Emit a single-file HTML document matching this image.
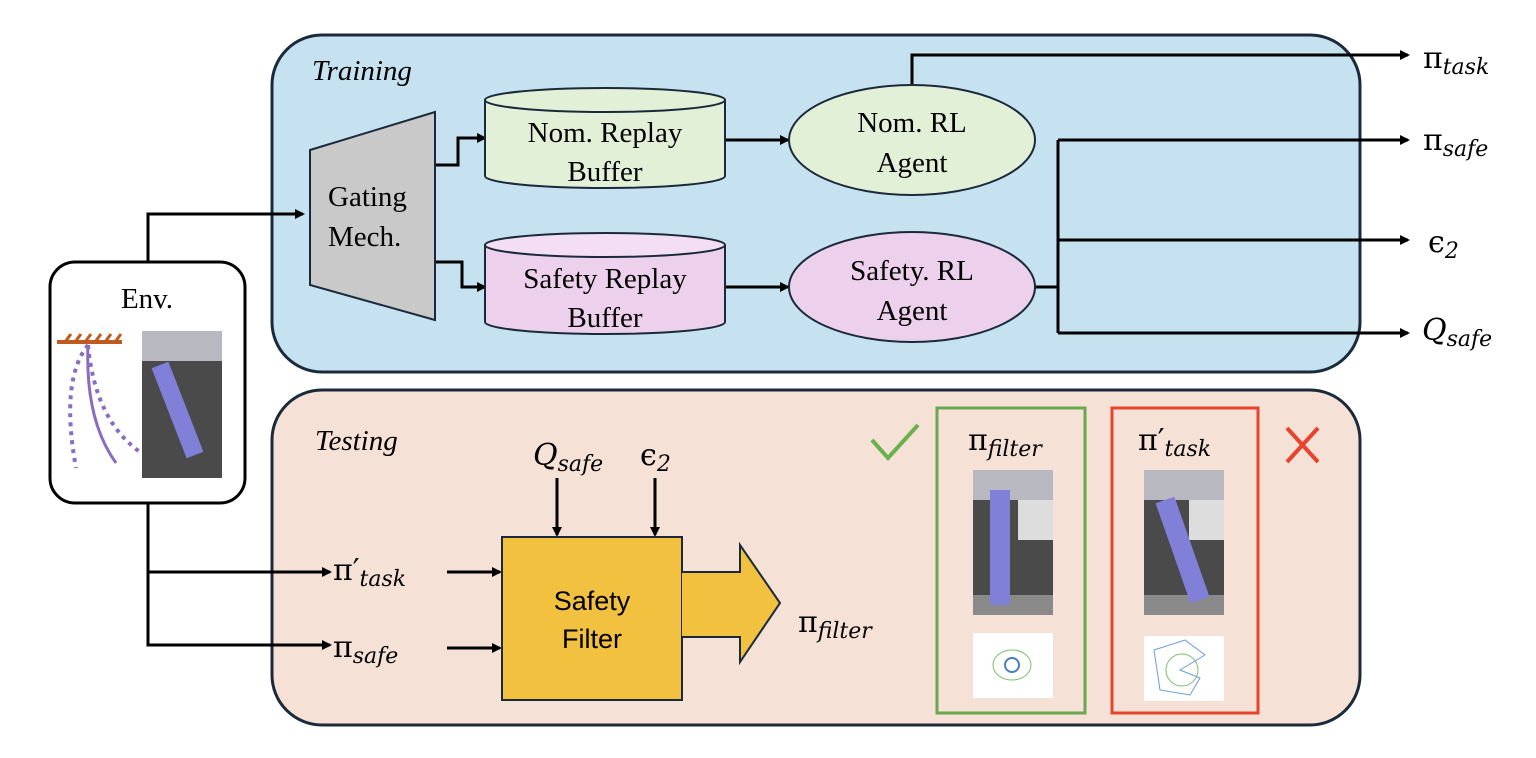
<!DOCTYPE html>
<html><head><style>body{margin:0;background:#fff}svg{display:block}
.t{font-family:"Liberation Serif",serif;font-size:29px;fill:#000}
.m{font-family:"DejaVu Serif","Liberation Serif",serif;font-size:30px;fill:#000}
.m tspan{font-style:italic}
.s{font-family:"Liberation Sans",sans-serif;font-size:27px;fill:#000}
</style></head><body>
<svg width="1536" height="758" viewBox="0 0 1536 758">
<defs><marker id="a" markerWidth="10" markerHeight="10" refX="8" refY="5" orient="auto" markerUnits="userSpaceOnUse"><path d="M0,0L10,5L0,10z" fill="#000"/></marker>
<g id="robot"><rect width="80" height="145" fill="#4a4a4a"/><rect x="0" y="0" width="80" height="30" fill="#b8b8c0"/><rect x="45" y="30" width="35" height="40" fill="#ddd"/><rect x="0" y="125" width="80" height="20" fill="#8a8a8a"/></g></defs>
<rect x="272" y="35" width="1088" height="337" rx="50" fill="#c6e2f1" stroke="#1a2a3a" stroke-width="3"/>
<rect x="272" y="390" width="1088" height="335" rx="50" fill="#f6e1d6" stroke="#1a2a3a" stroke-width="3"/>
<text x="312" y="80" class="t" font-style="italic" font-size="31">Training</text>
<text x="315" y="450" class="t" font-style="italic" font-size="31">Testing</text>
<rect x="50" y="262" width="195" height="241" rx="25" fill="#fff" stroke="#000" stroke-width="3"/>
<text x="147" y="308" class="t" font-size="32" text-anchor="middle">Env.</text>
<line x1="57" y1="342" x2="122" y2="342" stroke="#c05a20" stroke-width="4"/>
<path d="M65,342l6,-8M75,342l6,-8M85,342l6,-8M95,342l6,-8M105,342l6,-8M115,342l6,-8" stroke="#c05a20" stroke-width="3"/>
<path d="M88,345Q60,380 76,468" stroke="#8a6cc0" stroke-width="4" fill="none" stroke-dasharray="4,5"/>
<path d="M88,345Q85,420 116,463" stroke="#8a6cc0" stroke-width="3" fill="none"/>
<path d="M88,345Q95,420 140,452" stroke="#8a6cc0" stroke-width="4" fill="none" stroke-dasharray="4,5"/>
<rect x="142" y="331" width="80" height="147" fill="#4a4a4a"/><rect x="142" y="331" width="80" height="30" fill="#b8b8c0"/>
<path d="M160,365L195,455" stroke="#8080d8" stroke-width="18"/>
<g stroke="#000" stroke-width="3" fill="none">
<path d="M148,262V214H303" marker-end="url(#a)"/>
<path d="M148,503V645H330" marker-end="url(#a)"/>
<path d="M148,572H330" marker-end="url(#a)"/>
<path d="M435,165H458V138H485" marker-end="url(#a)"/>
<path d="M435,262H462V287H485" marker-end="url(#a)"/>
<path d="M725,140H788" marker-end="url(#a)"/>
<path d="M725,287H788" marker-end="url(#a)"/>
<path d="M912,85V55H1408" marker-end="url(#a)"/>
<path d="M1035,287H1058M1058,140V333"/>
<path d="M1058,140H1408" marker-end="url(#a)"/>
<path d="M1058,240H1408" marker-end="url(#a)"/>
<path d="M1058,333H1408" marker-end="url(#a)"/>
<path d="M447,572H500" marker-end="url(#a)"/>
<path d="M447,648H500" marker-end="url(#a)"/>
<path d="M557,478V535" marker-end="url(#a)"/>
<path d="M655,478V535" marker-end="url(#a)"/>
</g>
<path d="M310,150L435,112V320L310,285z" fill="#c9c9c9" stroke="#1a2a3a" stroke-width="2"/>
<text x="328" y="206" class="t">Gating</text><text x="328" y="246" class="t">Mech.</text>
<path d="M485,100V176A120,12 0 0 0 725,176V100" fill="#e2f0d8" stroke="#1a2a3a" stroke-width="2"/>
<ellipse cx="605" cy="100" rx="120" ry="12" fill="#e2f0d8" stroke="#1a2a3a" stroke-width="2"/>
<text x="605" y="142" class="t" text-anchor="middle">Nom. Replay</text><text x="605" y="181" class="t" text-anchor="middle">Buffer</text>
<path d="M485,245V322A120,12 0 0 0 725,322V245" fill="#ecd0ec" stroke="#1a2a3a" stroke-width="2"/>
<ellipse cx="605" cy="245" rx="120" ry="12" fill="#f3def3" stroke="#1a2a3a" stroke-width="2"/>
<text x="605" y="288" class="t" text-anchor="middle">Safety Replay</text><text x="605" y="327" class="t" text-anchor="middle">Buffer</text>
<ellipse cx="912" cy="140" rx="123" ry="55" fill="#e2f0d8" stroke="#1a2a3a" stroke-width="2"/>
<text x="912" y="132" class="t" text-anchor="middle">Nom. RL</text><text x="912" y="172" class="t" text-anchor="middle">Agent</text>
<ellipse cx="912" cy="287" rx="123" ry="55" fill="#ecd0ec" stroke="#1a2a3a" stroke-width="2"/>
<text x="912" y="280" class="t" text-anchor="middle">Safety. RL</text><text x="912" y="320" class="t" text-anchor="middle">Agent</text>
<text x="1423" y="68" class="m">π<tspan font-size="22" dy="6">task</tspan></text>
<text x="1423" y="150" class="m">π<tspan font-size="22" dy="6">safe</tspan></text>
<text x="1428" y="252" class="m">ϵ<tspan font-size="22" dy="6" font-style="normal">2</tspan></text>
<text x="1422" y="340" class="m"><tspan>Q</tspan><tspan font-size="22" dy="6">safe</tspan></text>
<text x="333" y="580" class="m">π′<tspan font-size="22" dy="6">task</tspan></text>
<text x="333" y="657" class="m">π<tspan font-size="22" dy="6">safe</tspan></text>
<text x="533" y="465" class="m"><tspan>Q</tspan><tspan font-size="22" dy="6">safe</tspan></text>
<text x="640" y="465" class="m">ϵ<tspan font-size="22" dy="6" font-style="normal">2</tspan></text>
<rect x="502" y="537" width="180" height="163" fill="#f3c140" stroke="#1a2a3a" stroke-width="2"/>
<path d="M682,572H740V545L780,603L740,662V637H682" fill="#f3c140" stroke="#1a2a3a" stroke-width="2"/>
<text x="592" y="610" class="s" text-anchor="middle">Safety</text><text x="592" y="648" class="s" text-anchor="middle">Filter</text>
<text x="798" y="632" class="m">π<tspan font-size="22" dy="6">filter</tspan></text>
<path d="M872,440L888,458L918,425" stroke="#6ab04c" stroke-width="4" fill="none"/>
<path d="M1287,428L1318,462M1318,428L1287,462" stroke="#e8432e" stroke-width="4"/>
<rect x="937" y="408" width="148" height="305" fill="none" stroke="#6aa84f" stroke-width="3"/>
<rect x="1112" y="408" width="146" height="305" fill="none" stroke="#e8432e" stroke-width="3"/>
<text x="968" y="450" class="m">π<tspan font-size="22" dy="6">filter</tspan></text>
<text x="1138" y="450" class="m">π′<tspan font-size="22" dy="6">task</tspan></text>
<use href="#robot" x="973" y="470"/><path d="M1000,490V605" stroke="#8080d8" stroke-width="20"/>
<use href="#robot" x="1144" y="470"/><path d="M1165,500L1200,600" stroke="#8080d8" stroke-width="20"/>
<rect x="973" y="633" width="80" height="65" fill="#fff"/><ellipse cx="1012" cy="665" rx="19" ry="15" fill="none" stroke="#7cbf6a"/><circle cx="1012" cy="665" r="7" fill="none" stroke="#4a7cc0" stroke-width="2"/>
<rect x="1144" y="636" width="80" height="65" fill="#fff"/><circle cx="1182" cy="670" r="16" fill="none" stroke="#7cbf6a"/><path d="M1154,650L1185,640L1205,655L1180,670L1200,678L1190,695L1160,690Z" fill="none" stroke="#6a9cd8"/>
</svg></body></html>
